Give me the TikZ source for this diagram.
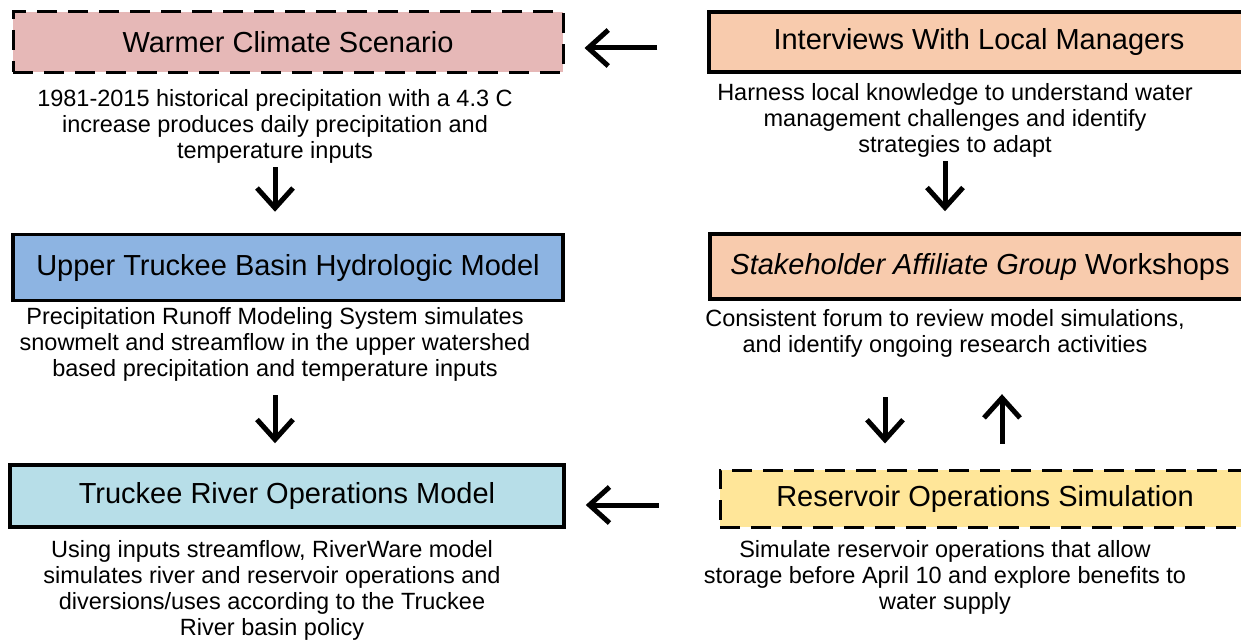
\documentclass[tikz,border=0pt]{standalone}
\usepackage{fontspec}
\setmainfont{Liberation Sans}
\usetikzlibrary{arrows.meta}
\definecolor{pinkfill}{HTML}{E6B8B7}
\definecolor{peachfill}{HTML}{F8CBAD}
\definecolor{bluefill}{HTML}{8DB4E2}
\definecolor{cyanfill}{HTML}{B7DEE8}
\definecolor{yellowfill}{HTML}{FFE699}
\tikzset{
  titlebox/.style={draw=black, line width=3.5pt, inner sep=0pt, font=\fontsize{29}{33}\selectfont},
  dashbox/.style={titlebox, line width=3pt, dash pattern=on 20pt off 11pt},
  desc/.style={align=center, inner sep=0pt, font=\fontsize{23.5}{26}\selectfont},
  flow/.style={line width=5pt, -{Straight Barb[length=20pt,width=36pt,line width=5pt]}},
}
\begin{document}
\begin{tikzpicture}[x=1pt,y=-1pt]
\useasboundingbox (0,0) rectangle (1241,642);
\clip (0,0) rectangle (1241,642);
% left column
\node[dashbox, fill=pinkfill, minimum width=550pt, minimum height=60pt] (warm) at (288,42) {Warmer Climate Scenario};
\node[desc] (warmd) at (275,126) {1981-2015 historical precipitation with a 4.3 C\\increase produces daily precipitation and\\temperature inputs};
\node[titlebox, fill=bluefill, minimum width=550pt, minimum height=66pt] (upper) at (288,267.5) {Upper Truckee Basin Hydrologic Model};
\node[desc] (upperd) at (275,344) {Precipitation Runoff Modeling System simulates\\snowmelt and streamflow in the upper watershed\\based precipitation and temperature inputs};
\node[titlebox, fill=cyanfill, minimum width=554pt, minimum height=62pt] (river) at (287,496) {Truckee River Operations Model};
\node[desc] (riverd) at (272,590) {Using inputs streamflow, RiverWare model\\simulates river and reservoir operations and\\diversions/uses according to the Truckee\\River basin policy};
% right column
\node[titlebox, fill=peachfill, minimum width=540pt, minimum height=60pt] (inter) at (979,42) {Interviews With Local Managers};
\node[desc] (interd) at (955,120) {Harness local knowledge to understand water\\management challenges and identify\\strategies to adapt};
\node[titlebox, fill=peachfill, minimum width=540pt, minimum height=65pt] (work) at (980,266.5) {\textit{Stakeholder Affiliate Group} Workshops};
\node[desc] (workd) at (945,333) {Consistent forum to review model simulations,\\and identify ongoing research activities};
\node[dashbox, fill=yellowfill, minimum width=530pt, minimum height=57pt] (res) at (985,498.5) {Reservoir Operations Simulation};
\node[desc] (resd) at (945,577) {Simulate reservoir operations that allow\\storage before April 10 and explore benefits to\\water supply};
% connectors
\draw[flow, shorten <=50pt, shorten >=20pt] (inter.west |- 0,48) -- (warm.east |- 0,48);
\draw[flow, shorten <=4pt, shorten >=21pt] (warmd.south) -- (upper.north -| warmd.south);
\draw[flow, shorten <=14pt, shorten >=20pt] (upperd.south) -- (river.north -| upperd.south);
\draw[flow, shorten <=4pt, shorten >=21pt] (interd.south -| 945,0) -- (work.north -| 945,0);
\draw[flow, shorten <=40pt, shorten >=25pt] (workd.south -| 885,0) -- (res.north -| 885,0);
\draw[flow, shorten <=25pt, shorten >=37pt] (res.north -| 1002,0) -- (workd.south -| 1002,0);
\draw[flow, shorten <=60pt, shorten >=20pt] (res.west |- 0,505) -- (river.east |- 0,505);
\end{tikzpicture}
\end{document}
